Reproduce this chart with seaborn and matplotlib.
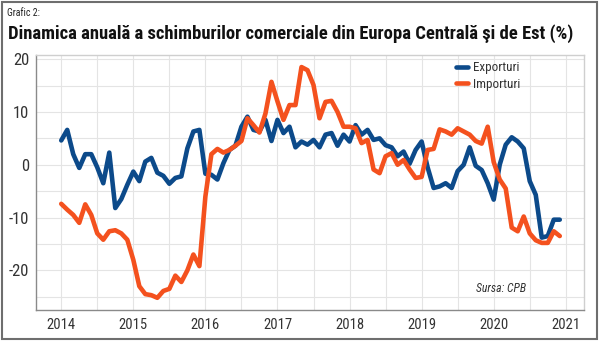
import os
import matplotlib
matplotlib.use('Agg')
import matplotlib.pyplot as plt
from matplotlib import font_manager as fm
from matplotlib.font_manager import FontProperties
from matplotlib.patches import Rectangle
import seaborn as sns
import numpy as np
import pandas as pd

# ---- data (monthly, Jan 2014 - Dec 2020) ----
start_year = 2014
exporturi = [4.6, 6.6, 2.0, -0.6, 2.0, 2.0, -0.5, -3.5, 2.3, -8.2, -6.5, -3.8,
             -1.3, -3.1, 0.6, 1.3, -1.5, -2.1, -3.6, -2.5, -2.2, 3.1, 6.3, 6.6,
             -1.7, -1.9, -2.8, 0.3, 2.8, 3.6, 7.2, 9.1, 6.6, 6.3, 8.5, 4.5,
             8.5, 6.0, 7.2, 3.3, 4.4, 3.8, 4.7, 3.3, 5.7, 6.0, 3.6, 5.7,
             4.4, 7.5, 5.7, 6.6, 4.7, 5.0, 3.7, 3.3, 1.6, 2.5, 0.2, 2.8,
             4.4, -0.5, -4.4, -4.1, -3.5, -4.4, -1.2, 0.0, 3.3, -0.2, -1.0, -3.5,
             -6.6, 0.0, 3.8, 5.2, 4.4, 3.1, -3.1, -5.7, -13.8, -13.5, -10.4, -10.4]
importuri = [-7.4, -8.5, -9.5, -11.0, -7.5, -9.5, -13.0, -14.2, -12.6, -12.4, -13.0, -14.2,
             -18.0, -23.0, -24.5, -24.7, -25.2, -23.9, -23.5, -21.0, -22.2, -20.0, -17.0, -19.2,
             -6.0, 2.0, 3.0, 2.3, 2.8, 3.6, 4.5, 8.8, 7.5, 6.1, 9.7, 15.7,
             12.0, 8.5, 11.3, 11.3, 18.5, 17.9, 15.1, 8.8, 11.9, 12.1, 10.0, 7.2,
             7.2, 6.9, 4.1, 4.7, -0.9, -1.6, 1.6, 2.2, 0.0, 0.9, -0.9, -2.5,
             -2.3, 2.8, 3.0, 6.7, 6.3, 5.7, 6.9, 6.3, 5.7, 4.5, 4.0, 7.2,
             0.5, -2.8, -4.5, -11.9, -12.6, -9.8, -13.0, -14.3, -14.8, -14.8, -12.6, -13.5]
series_names = ['Exporturi', 'Importuri']
x_ticks = list(range(2014, 2022))
y_ticks = [-20, -10, 0, 10, 20]
title = 'Dinamica anuală a schimburilor comerciale din Europa Centrală şi de Est (%)'
subtitle = 'Grafic 2:'
source = 'Sursa: CPB'

blue = '#0C4A8A'
orange = '#F4511E'

sns.set_theme(style='white')
plt.rcParams['font.family'] = ['DejaVu Sans']


# ---- pick a condensed font file if one is installed ----
def _w(v):
    m = {'normal': 400, 'regular': 400, 'book': 400, 'medium': 500, 'bold': 700,
         'semibold': 600, 'demibold': 600, 'light': 300, 'black': 900, 'heavy': 900}
    try:
        return int(v)
    except Exception:
        return m.get(str(v).lower(), 400)


def find_font(bold=False, italic=False):
    fam_pref = ['roboto', 'opensans', 'open sans', 'notosans', 'noto sans', 'dejavu', 'liberation']
    best, best_score = None, None
    for f in fm.fontManager.ttflist:
        fn = os.path.basename(f.fname).lower()
        st = str(f.stretch).lower()
        condensed = ('condensed' in fn or 'narrow' in fn or 'condensed' in st)
        if not condensed:
            continue
        if 'extra' in fn or 'ultra' in fn or 'extra' in st or 'ultra' in st:
            continue
        is_it = f.style in ('italic', 'oblique') or 'italic' in fn or 'oblique' in fn
        if is_it != italic:
            continue
        w = _w(f.weight)
        score = abs(w - (700 if bold else 400)) / 100.0
        if 'semi' in fn or 'semi' in st:
            score += 1.5
        key = (f.name + ' ' + fn).lower()
        fp = len(fam_pref)
        for i, p in enumerate(fam_pref):
            if p in key:
                fp = i
                break
        score += fp * 0.3
        if best_score is None or score < best_score:
            best, best_score = f.fname, score
    if best is None:
        return FontProperties(family='DejaVu Sans', weight='bold' if bold else 'normal',
                              style='italic' if italic else 'normal')
    return FontProperties(fname=best)


fp_reg = find_font()
fp_bold = find_font(bold=True)
fp_it = find_font(italic=True)

n = len(exporturi)
t = start_year + np.arange(n) / 12.0
df = pd.DataFrame({
    't': np.concatenate([t, t]),
    'v': exporturi + importuri,
    'serie': [series_names[0]] * n + [series_names[1]] * n,
})

fig = plt.figure(figsize=(6, 3.41), dpi=100)
renderer = fig.canvas.get_renderer()


def size_for(s, fp, target_px, base=20.0):
    p = fp.copy()
    p.set_size(base)
    w, h, d = renderer.get_text_width_height_descent(s, p, ismath=False)
    return base * target_px / w


def with_size(fp, size):
    p = fp.copy()
    p.set_size(size)
    return p


ax = fig.add_axes([0.06, 0.091, 0.913, 0.748])

sns.lineplot(data=df, x='t', y='v', hue='serie', palette=[blue, orange],
             linewidth=3.3, ax=ax)

ax.set_xlim(2013.65, 2021.25)
ax.set_ylim(-27.5, 20.8)
ax.set_xticks(x_ticks)
ax.set_xticks([y + 0.5 for y in x_ticks[:-1]], minor=True)
ax.set_yticks(y_ticks)
ax.set_yticks([-25, -15, -5, 5, 15], minor=True)
ax.set_xticklabels([str(v) for v in x_ticks])
ax.set_yticklabels([str(v) for v in y_ticks])
ax.grid(which='both', color='#e4e4e4', linewidth=0.8)
ax.set_axisbelow(True)
ax.set_xlabel('')
ax.set_ylabel('')
ax.tick_params(which='both', length=0)
ax.tick_params(axis='x', colors='#333333', pad=6)
ax.tick_params(axis='y', colors='#333333', pad=5)

xs = size_for('2014', fp_reg, 29)
ys = size_for('20', fp_reg, 16.5)
for lab in ax.get_xticklabels():
    lab.set_fontproperties(with_size(fp_reg, xs))
for lab in ax.get_yticklabels():
    lab.set_fontproperties(with_size(fp_reg, ys))

for s in ['left', 'bottom']:
    ax.spines[s].set_color('#8a8a8a')
    ax.spines[s].set_linewidth(1.0)
for s in ['top', 'right']:
    ax.spines[s].set_color('#cfcfcf')
    ax.spines[s].set_linewidth(1.0)

ls = size_for('Exporturi', fp_reg, 46)
leg = ax.legend(loc='upper left', bbox_to_anchor=(0.752, 1.005), frameon=False,
                handlelength=0.95, handletextpad=0.35, labelspacing=0.25,
                prop=with_size(fp_reg, ls), borderaxespad=0.2)
for h in leg.get_lines():
    h.set_linewidth(3.3)
for txt in leg.get_texts():
    txt.set_color('#333333')

ss = size_for(source, fp_it, 50)
ax.text(0.803, 0.086, source, transform=ax.transAxes, fontproperties=with_size(fp_it, ss),
        color='#333333', va='center')

gs = size_for(subtitle, fp_reg, 33)
fig.text(0.012, 0.962, subtitle, fontproperties=with_size(fp_reg, gs), color='#222222', va='center')
tsz = size_for(title, fp_bold, 566)
fig.text(0.013, 0.900, title, fontproperties=with_size(fp_bold, tsz), color='#111111', va='center')

fig.patches.append(Rectangle((0.004, 0.006), 0.991, 0.988, transform=fig.transFigure,
                             fill=False, edgecolor='#6e6e6e', linewidth=1.5))

fig.savefig('out.png', dpi=100)
